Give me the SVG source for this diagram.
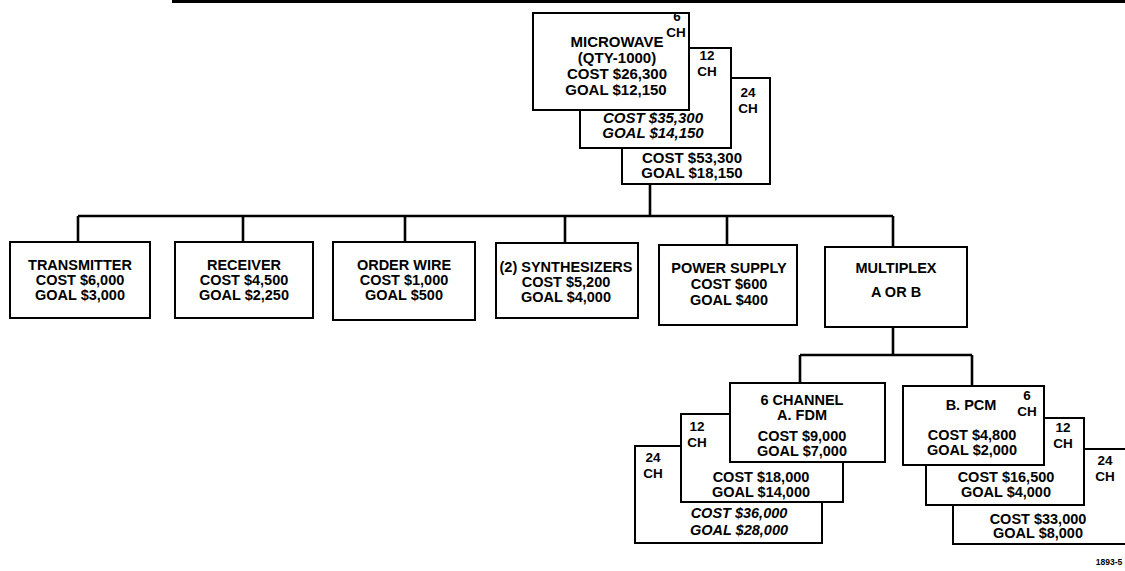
<svg xmlns="http://www.w3.org/2000/svg" width="1125" height="571" viewBox="0 0 1125 571">
<style>
.box{fill:#fff;stroke:#000;stroke-width:2}
.t{font-family:"Liberation Sans",Arial,sans-serif;font-weight:bold;font-size:14.5px;fill:#000;text-anchor:middle}
.m{font-size:15px}
.c{font-size:13.5px}
.i{font-style:italic}
.ln{fill:none;stroke:#000;stroke-width:2.6;stroke-linejoin:miter}
</style>
<rect x="172" y="0" width="953" height="3" fill="#000"/>
<g id="connectors">
<path class="ln" d="M650,184 V216 M78,216 H893 M78,216 V242 M243,216 V242 M405,216 V242 M565,216 V243 M727,216 V245 M893,216 V247"/>
<path class="ln" d="M893,327 V355 M800,355 H972 M800,355 V383 M972,355 V386"/>
</g>
<g id="microwave">
<rect class="box" x="622" y="78" width="148" height="106"/>
<rect class="box" x="580" y="48" width="151" height="100"/>
<rect class="box" x="533" y="13" width="156" height="97"/>
<text class="t c" x="677" y="21">6</text>
<text class="t c" x="676" y="37">CH</text>
<text class="t m" x="617" y="47">MICROWAVE</text>
<text class="t m" x="617" y="63">(QTY-1000)</text>
<text class="t m" x="617" y="79">COST $26,300</text>
<text class="t m" x="616" y="95">GOAL $12,150</text>
<text class="t c" x="707" y="60">12</text>
<text class="t c" x="707" y="76">CH</text>
<text class="t m i" x="653" y="123">COST $35,300</text>
<text class="t m i" x="653" y="138">GOAL $14,150</text>
<text class="t c" x="748" y="97">24</text>
<text class="t c" x="748" y="113">CH</text>
<text class="t m" x="692" y="163">COST $53,300</text>
<text class="t m" x="692" y="178">GOAL $18,150</text>
</g>
<g id="transmitter">
<rect class="box" x="10" y="242" width="140" height="76"/>
<text class="t" x="80" y="270">TRANSMITTER</text>
<text class="t" x="80" y="285">COST $6,000</text>
<text class="t" x="80" y="300">GOAL $3,000</text>
</g>
<g id="receiver">
<rect class="box" x="175" y="242" width="138" height="76"/>
<text class="t" x="244" y="270">RECEIVER</text>
<text class="t" x="244" y="285">COST $4,500</text>
<text class="t" x="244" y="300">GOAL $2,250</text>
</g>
<g id="orderwire">
<rect class="box" x="333" y="242" width="142" height="78"/>
<text class="t" x="404" y="270">ORDER WIRE</text>
<text class="t" x="404" y="285">COST $1,000</text>
<text class="t" x="404" y="300">GOAL $500</text>
</g>
<g id="synthesizers">
<rect class="box" x="496" y="243" width="142" height="75"/>
<text class="t" x="566" y="272">(2) SYNTHESIZERS</text>
<text class="t" x="566" y="287">COST $5,200</text>
<text class="t" x="566" y="302">GOAL $4,000</text>
</g>
<g id="powersupply">
<rect class="box" x="659" y="245" width="138" height="80"/>
<text class="t" x="729" y="273">POWER SUPPLY</text>
<text class="t" x="729" y="289">COST $600</text>
<text class="t" x="729" y="305">GOAL $400</text>
</g>
<g id="multiplex">
<rect class="box" x="825" y="247" width="142" height="80"/>
<text class="t" x="896" y="273">MULTIPLEX</text>
<text class="t" x="896" y="297">A OR B</text>
</g>
<g id="fdm">
<rect class="box" x="635" y="446" width="187" height="97"/>
<rect class="box" x="681" y="414" width="162" height="88"/>
<rect class="box" x="730" y="383" width="155" height="79"/>
<text class="t" x="802" y="405">6 CHANNEL</text>
<text class="t" x="802" y="420">A. FDM</text>
<text class="t" x="802" y="441">COST $9,000</text>
<text class="t" x="802" y="456">GOAL $7,000</text>
<text class="t c" x="697" y="431">12</text>
<text class="t c" x="697" y="447">CH</text>
<text class="t" x="761" y="482">COST $18,000</text>
<text class="t" x="761" y="497">GOAL $14,000</text>
<text class="t c" x="653" y="462">24</text>
<text class="t c" x="653" y="478">CH</text>
<text class="t i" x="739" y="518">COST $36,000</text>
<text class="t i" x="739" y="535">GOAL $28,000</text>
</g>
<g id="pcm">
<rect class="box" x="953" y="449" width="180" height="95"/>
<rect class="box" x="926" y="418" width="158" height="87"/>
<rect class="box" x="903" y="386" width="141" height="79"/>
<text class="t" x="971" y="410">B. PCM</text>
<text class="t c" x="1027" y="400">6</text>
<text class="t c" x="1027" y="416">CH</text>
<text class="t" x="972" y="440">COST $4,800</text>
<text class="t" x="972" y="455">GOAL $2,000</text>
<text class="t c" x="1063" y="432">12</text>
<text class="t c" x="1063" y="448">CH</text>
<text class="t" x="1006" y="482">COST $16,500</text>
<text class="t" x="1006" y="497">GOAL $4,000</text>
<text class="t c" x="1105" y="465">24</text>
<text class="t c" x="1105" y="481">CH</text>
<text class="t" x="1038" y="524">COST $33,000</text>
<text class="t" x="1038" y="538">GOAL $8,000</text>
</g>
<text class="t" x="1109" y="565" style="font-size:8.5px">1893-5</text>
</svg>
